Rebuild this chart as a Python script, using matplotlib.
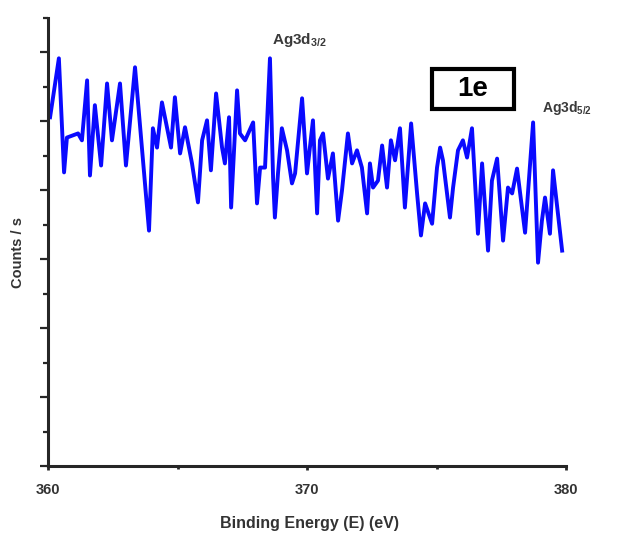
import matplotlib
matplotlib.use("Agg")
from matplotlib import pyplot as plt
from matplotlib.patches import Rectangle
from matplotlib.ticker import MultipleLocator

plt.rcParams['font.family'] = ['Liberation Sans', 'DejaVu Sans']
plt.rcParams['mathtext.fontset'] = 'custom'
plt.rcParams['mathtext.bf'] = 'Liberation Sans:bold'
plt.rcParams['mathtext.rm'] = 'Liberation Sans:bold'
plt.rcParams['mathtext.default'] = 'bf'

# spectrum (binding energy in eV, counts in arbitrary units)
energia = [360.08, 360.42, 360.62, 360.73, 361.16, 361.31, 361.51, 361.62, 361.81, 362.05,
           362.28, 362.47, 362.78, 363.01, 363.36, 363.90, 364.05, 364.21, 364.40, 364.75,
           364.90, 365.10, 365.29, 365.56, 365.79, 365.95, 366.14, 366.29, 366.49, 366.72,
           366.83, 366.99, 367.07, 367.30, 367.41, 367.61, 367.92, 368.07, 368.19, 368.38,
           368.57, 368.69, 368.76, 368.88, 369.03, 369.23, 369.42, 369.54, 369.81, 370.00,
           370.23, 370.39, 370.50, 370.62, 370.81, 371.00, 371.20, 371.35, 371.58, 371.74,
           371.93, 372.12, 372.32, 372.43, 372.55, 372.74, 372.90, 373.09, 373.24, 373.40,
           373.59, 373.78, 374.02, 374.25, 374.40, 374.56, 374.83, 375.02, 375.14, 375.25,
           375.52, 375.64, 375.83, 376.02, 376.18, 376.37, 376.60, 376.76, 376.99, 377.14,
           377.34, 377.57, 377.76, 377.92, 378.11, 378.42, 378.73, 378.92, 379.07, 379.19,
           379.38, 379.50, 379.85]
contagens = [10.12, 11.83, 8.52, 9.53, 9.65, 9.45, 11.19, 8.43, 10.47, 8.72,
             11.10, 9.45, 11.10, 8.72, 11.57, 6.83, 9.80, 9.24, 10.55, 9.24,
             10.70, 9.07, 9.83, 8.78, 7.65, 9.45, 10.03, 8.58, 10.81, 9.24,
             8.78, 10.12, 7.50, 10.90, 9.65, 9.45, 9.97, 7.62, 8.66, 8.66,
             11.83, 8.37, 7.21, 8.49, 9.80, 9.16, 8.20, 8.49, 10.67, 8.49,
             10.03, 7.33, 9.45, 9.65, 8.34, 9.07, 7.12, 7.99, 9.65, 8.78,
             9.16, 8.66, 7.33, 8.78, 8.08, 8.28, 9.30, 8.08, 9.45, 8.87,
             9.80, 7.50, 9.94, 7.91, 6.69, 7.62, 7.03, 8.66, 9.24, 8.87,
             7.21, 8.08, 9.16, 9.45, 8.95, 9.80, 6.74, 8.78, 6.25, 8.28,
             8.92, 6.54, 8.08, 7.91, 8.63, 6.77, 9.97, 5.90, 7.12, 7.79,
             6.74, 8.58, 6.25]

xticks = [360, 370, 380]
xlabel = "Binding Energy (E) (eV)"
ylabel = "Counts / s"

W, H = 619, 538
fig = plt.figure(figsize=(W / 100, H / 100), dpi=100)
ax = fig.add_axes([48 / W, (H - 466) / H, 518 / W, 448 / H])

ax.plot(energia, contagens, color='#0a0aff', linewidth=2.8, solid_joinstyle='round')

ax.set_xlim(360, 380)
ax.set_ylim(0, 13)
ax.set_xticks(xticks)
ax.xaxis.set_minor_locator(MultipleLocator(5))
ax.yaxis.set_major_locator(MultipleLocator(2))
ax.yaxis.set_minor_locator(MultipleLocator(1))
ax.set_yticklabels([])

for lado in ['top', 'right']:
    ax.spines[lado].set_visible(False)
for lado in ['left', 'bottom']:
    ax.spines[lado].set_linewidth(2.2)
    ax.spines[lado].set_color('#262626')

ax.tick_params(axis='x', which='major', direction='out', length=3, width=2,
               color='#262626', pad=9, labelsize=10.5, labelcolor='#333333')
ax.tick_params(axis='x', which='minor', direction='out', length=2, width=2, color='#262626')
ax.tick_params(axis='y', which='major', direction='out', length=6, width=1.6, color='#262626')
ax.tick_params(axis='y', which='minor', direction='out', length=3.5, width=1.6, color='#262626')
for t in ax.get_xticklabels():
    t.set_fontweight('bold')

ax.set_xlabel(xlabel, fontsize=11.5, fontweight='bold', color='#333333')
ax.xaxis.set_label_coords((310 - 48) / 518, (466 - 516) / 448)
ax.set_ylabel(ylabel, fontsize=10.5, fontweight='bold', color='#333333')
ax.yaxis.set_label_coords((25 - 48) / 518, (466 - 252) / 448)

# peak labels
fig.text(272 / W, 1 - 44 / H, r'Ag3d$_{3/2}$', fontsize=11, fontweight='bold', color='#3a3a3a')
fig.text(542 / W, 1 - 112 / H, r'Ag3d$_{5/2}$', fontsize=10, fontweight='bold', color='#3a3a3a')

# panel tag
fig.patches.append(Rectangle((432 / W, 1 - 109 / H), 82 / W, 40 / H, transform=fig.transFigure,
                             fill=False, edgecolor='black', linewidth=3))
fig.text(473 / W, 1 - 89 / H, "1e", fontsize=20, fontweight='bold', ha='center', va='center')

plt.savefig("out.png", dpi=100)
